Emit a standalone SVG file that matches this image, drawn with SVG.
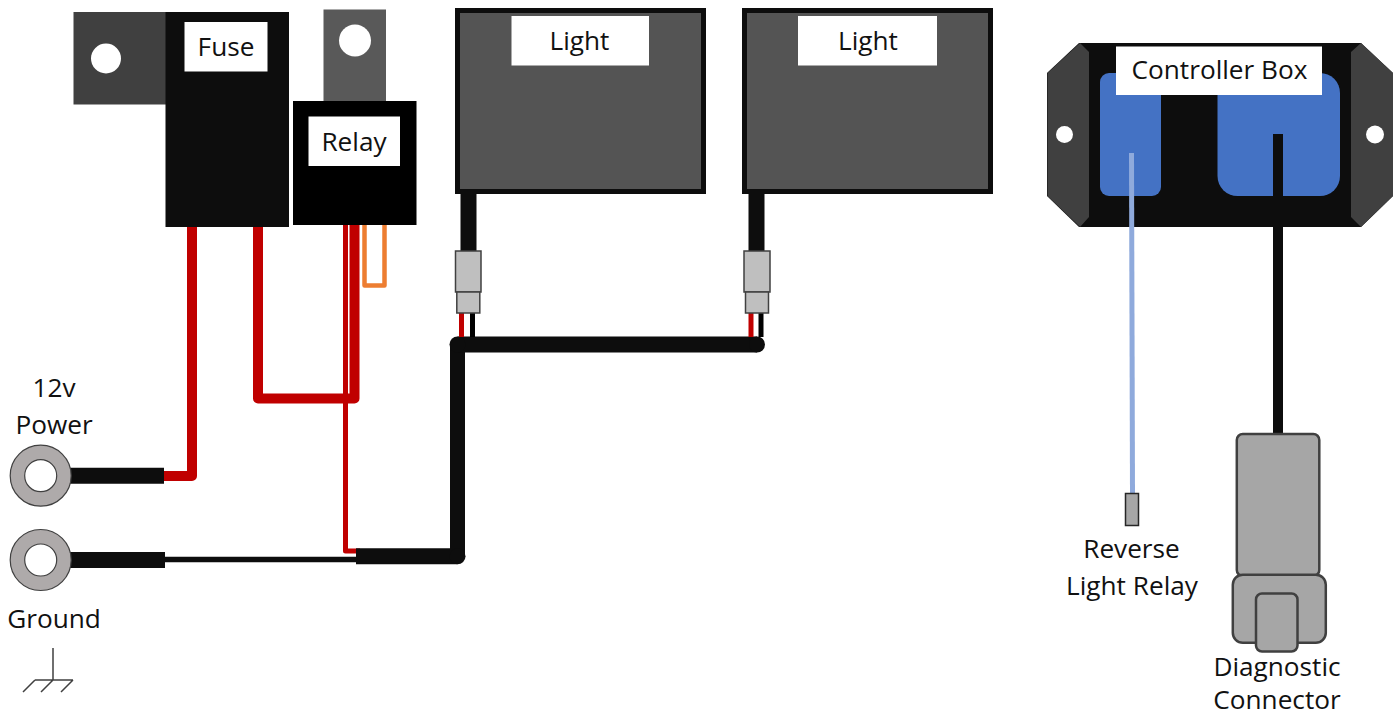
<svg xmlns="http://www.w3.org/2000/svg" width="1393" height="717" viewBox="0 0 1393 717">
<style>
text{font-family:"Open Sans","Noto Sans","Liberation Sans",sans-serif;font-size:26.2px;fill:#111;text-anchor:middle}
.w{fill:none;stroke-linejoin:round}
.red{stroke:#c00000}
.blk{stroke:#0d0d0d}
.lbl{fill:#fff}
.dark{fill:#0d0d0d}
.hole{fill:#fff}
.conn{fill:#bfbfbf;stroke:#404040;stroke-width:1.5}
.diag{fill:#a6a6a6;stroke:#404040;stroke-width:2.5}
.lug{fill:#aeaaaa;stroke:#404040;stroke-width:1.2}
.lugh{fill:#fff;stroke:#404040;stroke-width:1.2}
.light{fill:#545454;stroke:#0d0d0d;stroke-width:5}
.ear{fill:#404040}
.blue{fill:#4472c4}
</style>
<g id="controller-box">
<polygon class="dark" points="1079,43 1361,43 1393,73 1393,196 1361,227 1079,227 1047,196 1047,73"/>
<polygon class="ear" points="1047.500,73 1080,43 1089,52 1089,217 1080,227 1047.500,196"/>
<polygon class="ear" points="1393,73 1361,43 1351,52 1351,217 1361,227 1393,196"/>
<circle class="hole" cx="1064.500" cy="134.500" r="8.500"/>
<circle class="hole" cx="1375" cy="134.500" r="9"/>
<rect class="blue" x="1100" y="73" width="61" height="123" rx="9"/>
<rect class="blue" x="1217.500" y="73" width="122.500" height="123" rx="20"/>
<rect class="lbl" x="1116" y="46.500" width="206" height="48.500"/>
<text x="1219.500" y="79">Controller Box</text>
</g>
<g id="connectors">
<path class="w red" stroke-width="10" d="M192 225V476H160"/>
<path class="w red" stroke-width="10" d="M258 225V398.500H354.500V222"/>
<path class="w red" stroke-width="5" d="M345.500 222V551H360"/>
<path class="w" stroke="#ed7d31" stroke-width="4.500" d="M364.500 222V285.500H384.500V222"/>
<path class="w blk" stroke-width="16" d="M66 475.700H164"/>
<path class="w blk" stroke-width="16" d="M66 560H165"/>
<path class="w blk" stroke-width="5.500" d="M165 559.500H358"/>
<path class="w blk" stroke-width="16" d="M356 556.300H457.500"/>
<path class="w blk" stroke-width="15" d="M457.500 556.300V344.500"/>
<path class="w blk" stroke-width="16" d="M457.500 344.500H757"/>
<circle class="dark" cx="457.500" cy="556.300" r="8"/>
<circle class="dark" cx="457.500" cy="344.500" r="8"/>
<circle class="dark" cx="757" cy="344.500" r="8"/>
<path class="w blk" stroke-width="16" d="M468.500 189V252"/>
<path class="w blk" stroke-width="16" d="M756.500 189V252"/>
<path class="w red" stroke-width="5" d="M461.500 312V337"/>
<path class="w" stroke="#000" stroke-width="5" d="M472.500 312V337"/>
<path class="w red" stroke-width="5" d="M751 312V337"/>
<path class="w" stroke="#000" stroke-width="5" d="M761 312V337"/>
<path class="w" stroke="#8faadc" stroke-width="5" d="M1131.500 153L1132.500 494"/>
<path class="w" stroke="#0d0d0d" stroke-width="10" d="M1278 134V435"/>
</g>
<g id="fuse">
<rect class="ear" x="73.500" y="12" width="93" height="92.500"/>
<circle class="hole" cx="106" cy="58.500" r="15"/>
<rect class="dark" x="165.500" y="12" width="123.500" height="215"/>
<rect class="lbl" x="184.500" y="22" width="83" height="49.500"/>
<text x="226" y="56">Fuse</text>
</g>
<g id="relay">
<rect fill="#595959" x="323.500" y="9.500" width="62.500" height="93"/>
<circle class="hole" cx="355" cy="40.500" r="16"/>
<rect fill="#000" x="293" y="101" width="123.500" height="124"/>
<rect class="lbl" x="308.500" y="116.500" width="91.500" height="49.500"/>
<text x="354" y="151">Relay</text>
</g>
<g id="light-1">
<rect class="light" x="457.500" y="10.500" width="246" height="181"/>
<rect class="lbl" x="511.500" y="16" width="137.500" height="49.500"/>
<text x="579.500" y="50">Light</text>
<rect class="conn" x="455.500" y="251" width="25.500" height="41"/>
<rect class="conn" x="456.800" y="292" width="23" height="21"/>
</g>
<g id="light-2">
<rect class="light" x="744.500" y="10.500" width="246" height="181"/>
<rect class="lbl" x="798" y="16" width="139" height="49.500"/>
<text x="868" y="50">Light</text>
<rect class="conn" x="744" y="251" width="26" height="41"/>
<rect class="conn" x="745.500" y="292" width="23" height="21"/>
</g>
<g id="power-lug">
<circle class="lug" cx="40.700" cy="475.700" r="30.500"/>
<circle class="lugh" cx="40.700" cy="475.700" r="16"/>
<text x="54" y="397">12v</text>
<text x="54" y="434">Power</text>
</g>
<g id="ground-lug">
<circle class="lug" cx="40.700" cy="560" r="30.500"/>
<circle class="lugh" cx="40.700" cy="560" r="16"/>
<text x="54" y="628">Ground</text>
<path fill="none" stroke="#404040" stroke-width="1.500" d="M53 648V680M35 680H73M35 680L23 692M53 680L41 692M73 680L61 692"/>
</g>
<g id="reverse-light-relay">
<rect fill="#a6a6a6" stroke="#262626" stroke-width="1.500" x="1125.500" y="493.500" width="13" height="32"/>
<text x="1131.500" y="558">Reverse</text>
<text x="1132" y="595">Light Relay</text>
</g>
<g id="diagnostic-connector">
<rect class="diag" x="1236.800" y="434" width="82.500" height="142" rx="6"/>
<rect class="diag" x="1232.800" y="574.700" width="93" height="68" rx="10"/>
<rect class="diag" x="1256" y="593.500" width="41.500" height="58" rx="6"/>
<text x="1277" y="676">Diagnostic</text>
<text x="1277" y="709">Connector</text>
</g>
</svg>
